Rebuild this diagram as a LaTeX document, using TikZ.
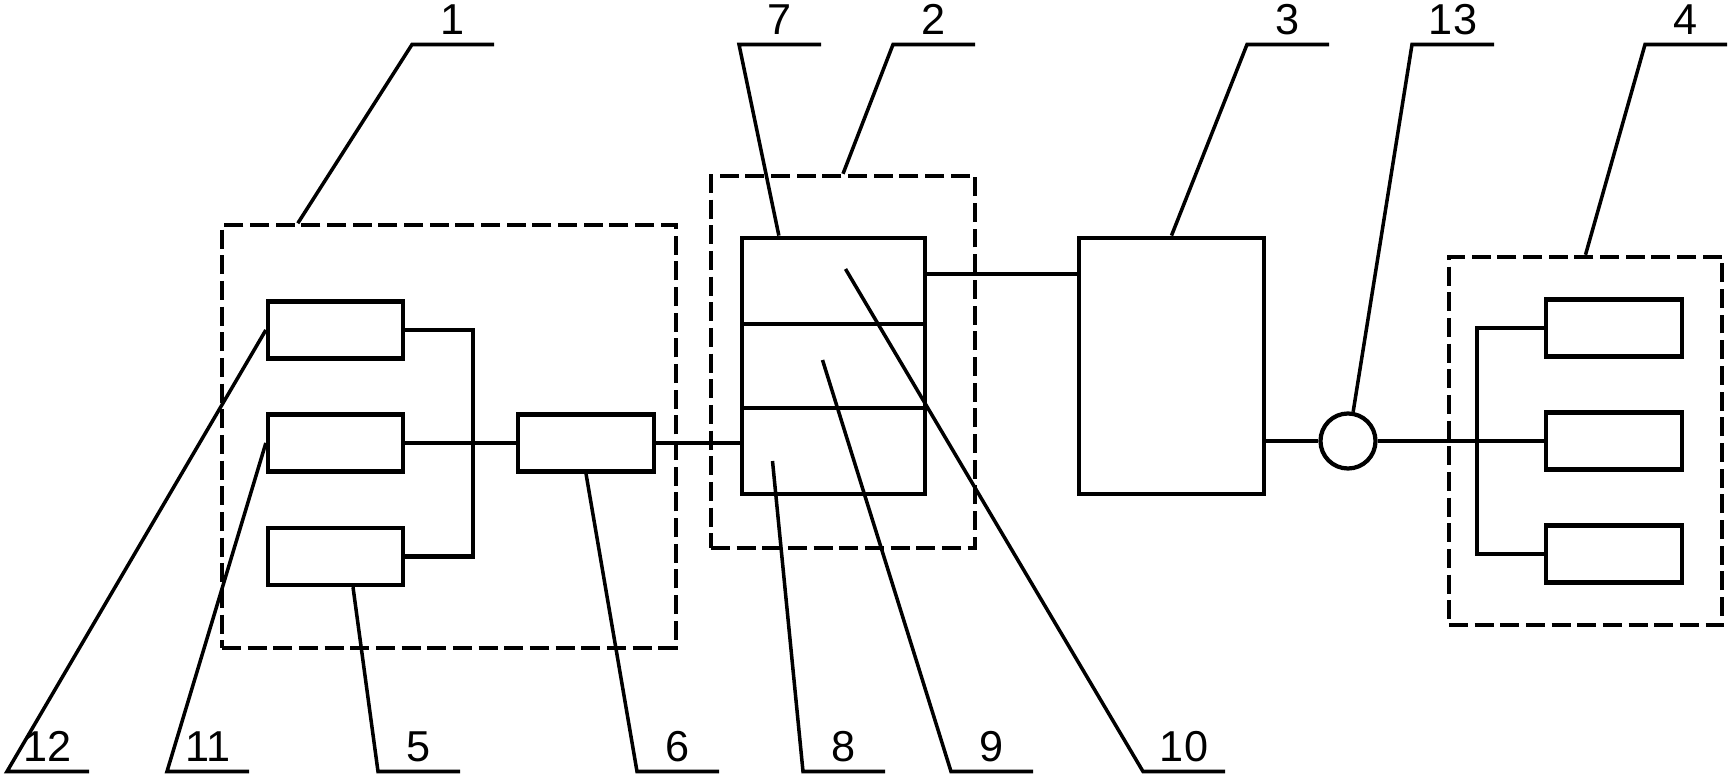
\documentclass[tikz,border=0pt]{standalone}
\usepackage{fontspec}
\setmainfont{Liberation Sans}
\usetikzlibrary{calc}
\tikzset{
  blk/.style={draw, line width=1.2pt, inner sep=0pt, minimum width=1.35cm, minimum height=0.57cm},
  grp/.style={draw, line width=1.2pt, dash pattern=on 5.4pt off 1.9pt, inner sep=0pt},
  wire/.style={line width=1.2pt},
  lead/.style={line width=1pt},
  num/.style={font=\fontsize{12.3}{14}\selectfont, inner sep=2.3pt}
}
\begin{document}
\begin{tikzpicture}[x=0.01cm, y=-0.01cm]
  \useasboundingbox (0,0) rectangle (1736,782);

  % ===== Group 1 =====
  \node[grp, minimum width=4.54cm, minimum height=4.22cm] (g1) at (449,436.5) {};
  \node[blk] (b12) at (335.5,330) {};
  \node[blk] (b11) at (335.5,443) {};
  \node[blk] (b5) at (335.5,556.5) {};
  \node[blk, minimum width=1.36cm] (b6) at (586,443) {};

  \draw[wire] (b12.east) -- (473,330) -- (473,556.5) -- (b5.east);
  \draw[wire] (b11.east) -- (b6.west);

  % ===== Group 2 =====
  \node[grp, minimum width=2.64cm, minimum height=3.72cm] (g2) at (843,362) {};
  \node[blk, minimum width=1.83cm, minimum height=0.865cm] (c7) at (833.5,281) {};
  \node[blk, minimum width=1.83cm, minimum height=0.84cm] (c9) at (833.5,366) {};
  \node[blk, minimum width=1.83cm, minimum height=0.865cm] (c8) at (833.5,451) {};

  \draw[wire] (b6.east) -- (b6.east -| c8.west);

  % ===== Unit 3 =====
  \node[blk, minimum width=1.85cm, minimum height=2.565cm] (b3) at (1171.5,366) {};
  \draw[wire] ([yshift=0.07cm]c7.east) -- ([yshift=0.07cm]c7.east -| b3.west);

  % Sensor 13
  \node[draw, circle, line width=1.2pt, inner sep=0pt, minimum size=0.55cm] (s13) at (1348,441) {};
  \draw[wire] (s13.west -| b3.east) -- (s13.west);

  % ===== Group 4 =====
  \node[grp, minimum width=2.73cm, minimum height=3.68cm] (g4) at (1585.5,441) {};
  \node[blk, minimum width=1.36cm] (r1) at (1614,328) {};
  \node[blk, minimum width=1.36cm] (r2) at (1614,441) {};
  \node[blk, minimum width=1.36cm] (r3) at (1614,554) {};

  \draw[wire] (s13.east) -- (r2.west);
  \draw[wire] (r1.west) -- (1477,328) -- (1477,554) -- (r3.west);

  % ===== Leaders, top =====
  \coordinate (k1) at (412,44.5);
  \coordinate (k7) at (739,44.5);
  \coordinate (k2) at (893,44.5);
  \coordinate (k3) at (1247,44.5);
  \coordinate (k13) at (1412,44.5);
  \coordinate (k4) at (1645,44.5);

  \draw[lead] ([xshift=0.78cm]g1.north west) -- (k1) -- ++(82,0) node[midway, above, num] (n1) {1};
  \draw[lead] ([xshift=0.39cm]c7.north west) -- (k7) -- ++(82,0) node[midway, above, num] (n7) {7};
  \draw[lead] (g2.north) -- (k2) -- ++(82,0) node[midway, above, num] (n2) {2};
  \draw[lead] (b3.north) -- (k3) -- ++(82,0) node[midway, above, num] (n3) {3};
  \draw[lead] (s13.80) -- (k13) -- ++(82,0) node[midway, above, num] (n13) {13};
  \draw[lead] (g4.north) -- (k4) -- ++(82,0) node[midway, above, num] (n4) {4};

  % ===== Leaders, bottom =====
  \coordinate (k12) at (7,771.5);
  \coordinate (k11) at (167,771.5);
  \coordinate (k5) at (378,771.5);
  \coordinate (k6) at (637,771.5);
  \coordinate (k8) at (803,771.5);
  \coordinate (k9) at (951,771.5);
  \coordinate (k10) at (1143,771.5);

  \draw[lead] (b12.west) -- (k12) -- ++(82,0) node[midway, above, num] (n12) {12};
  \draw[lead] (b11.west) -- (k11) -- ++(82,0) node[midway, above, num] (n11) {11};
  \draw[lead] ([xshift=0.175cm]b5.south) -- (k5) -- ++(82,0) node[midway, above, num] (n5) {5};
  \draw[lead] (b6.south) -- (k6) -- ++(82,0) node[midway, above, num] (n6) {6};
  \draw[lead] ($(c8.center)+(-61,10)$) -- (k8) -- ++(82,0) node[midway, above, num] (n8) {8};
  \draw[lead] ($(c9.center)+(-11,-6)$) -- (k9) -- ++(82,0) node[midway, above, num] (n9) {9};
  \draw[lead] ($(c7.center)+(12,-12)$) -- (k10) -- ++(82,0) node[midway, above, num] (n10) {10};
\end{tikzpicture}
\end{document}
